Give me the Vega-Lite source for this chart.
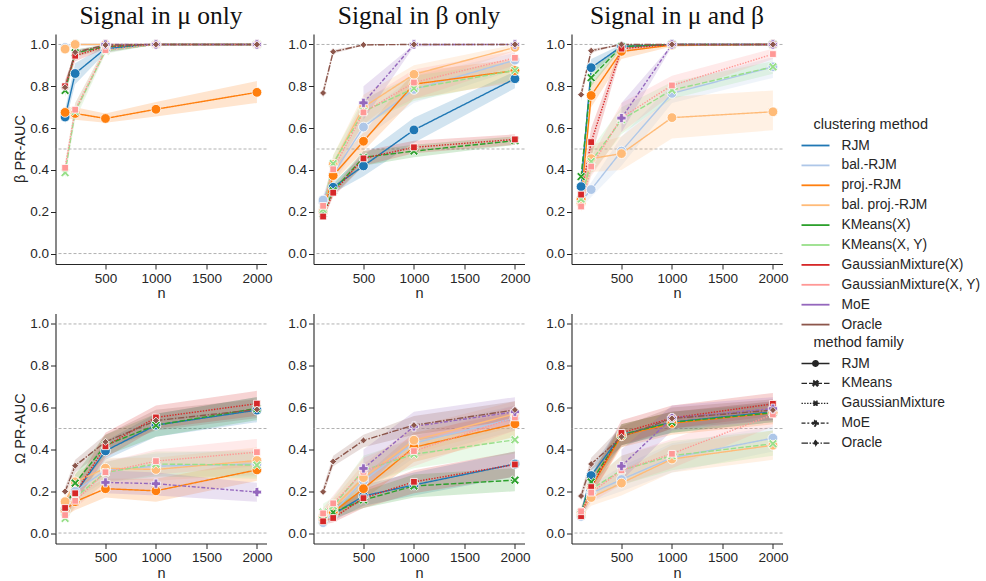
{
"$schema": "https://vega.github.io/schema/vega-lite/v6.json",
"padding": {"left": 12.5, "top": 3, "right": 5, "bottom": 5},
"config": {
  "font": "Liberation Sans",
  "view": {"stroke": null},
  "axis": {"domainColor": "#262626", "domainWidth": 1.1, "tickColor": "#262626", "tickSize": 5, "tickWidth": 1, "labelColor": "#262626", "labelFontSize": 13.5, "titleFontSize": 14.5, "titleFontWeight": "normal", "titleColor": "#262626", "grid": false, "labelPadding": 2, "titlePadding": 2}
},
"data": {"values": [
{"signal":"Signal in μ only","metric":"β PR-AUC","method":"RJM","n":100,"mean":0.653,"lo":0.62,"hi":0.69},
{"signal":"Signal in μ only","metric":"β PR-AUC","method":"RJM","n":200,"mean":0.861,"lo":0.81,"hi":0.91},
{"signal":"Signal in μ only","metric":"β PR-AUC","method":"RJM","n":500,"mean":0.98,"lo":0.96,"hi":0.995},
{"signal":"Signal in μ only","metric":"β PR-AUC","method":"RJM","n":1000,"mean":1,"lo":1,"hi":1},
{"signal":"Signal in μ only","metric":"β PR-AUC","method":"RJM","n":2000,"mean":1,"lo":1,"hi":1},
{"signal":"Signal in μ only","metric":"β PR-AUC","method":"bal.-RJM","n":100,"mean":0.985,"lo":0.97,"hi":1},
{"signal":"Signal in μ only","metric":"β PR-AUC","method":"bal.-RJM","n":200,"mean":1,"lo":1,"hi":1},
{"signal":"Signal in μ only","metric":"β PR-AUC","method":"bal.-RJM","n":500,"mean":1,"lo":1,"hi":1},
{"signal":"Signal in μ only","metric":"β PR-AUC","method":"bal.-RJM","n":1000,"mean":1,"lo":1,"hi":1},
{"signal":"Signal in μ only","metric":"β PR-AUC","method":"bal.-RJM","n":2000,"mean":1,"lo":1,"hi":1},
{"signal":"Signal in μ only","metric":"β PR-AUC","method":"proj.-RJM","n":100,"mean":0.675,"lo":0.65,"hi":0.70},
{"signal":"Signal in μ only","metric":"β PR-AUC","method":"proj.-RJM","n":200,"mean":0.67,"lo":0.64,"hi":0.70},
{"signal":"Signal in μ only","metric":"β PR-AUC","method":"proj.-RJM","n":500,"mean":0.646,"lo":0.625,"hi":0.67},
{"signal":"Signal in μ only","metric":"β PR-AUC","method":"proj.-RJM","n":1000,"mean":0.69,"lo":0.655,"hi":0.725},
{"signal":"Signal in μ only","metric":"β PR-AUC","method":"proj.-RJM","n":2000,"mean":0.771,"lo":0.72,"hi":0.825},
{"signal":"Signal in μ only","metric":"β PR-AUC","method":"bal. proj.-RJM","n":100,"mean":0.978,"lo":0.96,"hi":0.99},
{"signal":"Signal in μ only","metric":"β PR-AUC","method":"bal. proj.-RJM","n":200,"mean":1,"lo":1,"hi":1},
{"signal":"Signal in μ only","metric":"β PR-AUC","method":"bal. proj.-RJM","n":500,"mean":1,"lo":1,"hi":1},
{"signal":"Signal in μ only","metric":"β PR-AUC","method":"bal. proj.-RJM","n":1000,"mean":1,"lo":1,"hi":1},
{"signal":"Signal in μ only","metric":"β PR-AUC","method":"bal. proj.-RJM","n":2000,"mean":1,"lo":1,"hi":1},
{"signal":"Signal in μ only","metric":"β PR-AUC","method":"KMeans(X)","n":100,"mean":0.78,"lo":0.75,"hi":0.81},
{"signal":"Signal in μ only","metric":"β PR-AUC","method":"KMeans(X)","n":200,"mean":0.96,"lo":0.94,"hi":0.975},
{"signal":"Signal in μ only","metric":"β PR-AUC","method":"KMeans(X)","n":500,"mean":0.99,"lo":0.98,"hi":1},
{"signal":"Signal in μ only","metric":"β PR-AUC","method":"KMeans(X)","n":1000,"mean":1,"lo":1,"hi":1},
{"signal":"Signal in μ only","metric":"β PR-AUC","method":"KMeans(X)","n":2000,"mean":1,"lo":1,"hi":1},
{"signal":"Signal in μ only","metric":"β PR-AUC","method":"KMeans(X, Y)","n":100,"mean":0.387,"lo":0.36,"hi":0.42},
{"signal":"Signal in μ only","metric":"β PR-AUC","method":"KMeans(X, Y)","n":200,"mean":0.68,"lo":0.64,"hi":0.72},
{"signal":"Signal in μ only","metric":"β PR-AUC","method":"KMeans(X, Y)","n":500,"mean":0.97,"lo":0.955,"hi":0.99},
{"signal":"Signal in μ only","metric":"β PR-AUC","method":"KMeans(X, Y)","n":1000,"mean":1,"lo":1,"hi":1},
{"signal":"Signal in μ only","metric":"β PR-AUC","method":"KMeans(X, Y)","n":2000,"mean":1,"lo":1,"hi":1},
{"signal":"Signal in μ only","metric":"β PR-AUC","method":"GaussianMixture(X)","n":100,"mean":0.80,"lo":0.77,"hi":0.83},
{"signal":"Signal in μ only","metric":"β PR-AUC","method":"GaussianMixture(X)","n":200,"mean":0.946,"lo":0.92,"hi":0.96},
{"signal":"Signal in μ only","metric":"β PR-AUC","method":"GaussianMixture(X)","n":500,"mean":0.99,"lo":0.98,"hi":1},
{"signal":"Signal in μ only","metric":"β PR-AUC","method":"GaussianMixture(X)","n":1000,"mean":1,"lo":1,"hi":1},
{"signal":"Signal in μ only","metric":"β PR-AUC","method":"GaussianMixture(X)","n":2000,"mean":1,"lo":1,"hi":1},
{"signal":"Signal in μ only","metric":"β PR-AUC","method":"GaussianMixture(X, Y)","n":100,"mean":0.41,"lo":0.38,"hi":0.44},
{"signal":"Signal in μ only","metric":"β PR-AUC","method":"GaussianMixture(X, Y)","n":200,"mean":0.688,"lo":0.66,"hi":0.72},
{"signal":"Signal in μ only","metric":"β PR-AUC","method":"GaussianMixture(X, Y)","n":500,"mean":0.973,"lo":0.96,"hi":0.99},
{"signal":"Signal in μ only","metric":"β PR-AUC","method":"GaussianMixture(X, Y)","n":1000,"mean":1,"lo":1,"hi":1},
{"signal":"Signal in μ only","metric":"β PR-AUC","method":"GaussianMixture(X, Y)","n":2000,"mean":1,"lo":1,"hi":1},
{"signal":"Signal in μ only","metric":"β PR-AUC","method":"MoE","n":500,"mean":1,"lo":1,"hi":1},
{"signal":"Signal in μ only","metric":"β PR-AUC","method":"MoE","n":1000,"mean":1,"lo":1,"hi":1},
{"signal":"Signal in μ only","metric":"β PR-AUC","method":"MoE","n":2000,"mean":1,"lo":1,"hi":1},
{"signal":"Signal in μ only","metric":"β PR-AUC","method":"Oracle","n":100,"mean":0.795,"lo":0.77,"hi":0.82},
{"signal":"Signal in μ only","metric":"β PR-AUC","method":"Oracle","n":200,"mean":0.963,"lo":0.95,"hi":0.975},
{"signal":"Signal in μ only","metric":"β PR-AUC","method":"Oracle","n":500,"mean":0.997,"lo":0.99,"hi":1},
{"signal":"Signal in μ only","metric":"β PR-AUC","method":"Oracle","n":1000,"mean":1,"lo":1,"hi":1},
{"signal":"Signal in μ only","metric":"β PR-AUC","method":"Oracle","n":2000,"mean":1,"lo":1,"hi":1},

{"signal":"Signal in β only","metric":"β PR-AUC","method":"RJM","n":100,"mean":0.25,"lo":0.23,"hi":0.27},
{"signal":"Signal in β only","metric":"β PR-AUC","method":"RJM","n":200,"mean":0.317,"lo":0.29,"hi":0.34},
{"signal":"Signal in β only","metric":"β PR-AUC","method":"RJM","n":500,"mean":0.419,"lo":0.37,"hi":0.47},
{"signal":"Signal in β only","metric":"β PR-AUC","method":"RJM","n":1000,"mean":0.591,"lo":0.53,"hi":0.65},
{"signal":"Signal in β only","metric":"β PR-AUC","method":"RJM","n":2000,"mean":0.836,"lo":0.79,"hi":0.87},
{"signal":"Signal in β only","metric":"β PR-AUC","method":"bal.-RJM","n":100,"mean":0.256,"lo":0.23,"hi":0.28},
{"signal":"Signal in β only","metric":"β PR-AUC","method":"bal.-RJM","n":200,"mean":0.38,"lo":0.34,"hi":0.42},
{"signal":"Signal in β only","metric":"β PR-AUC","method":"bal.-RJM","n":500,"mean":0.605,"lo":0.55,"hi":0.66},
{"signal":"Signal in β only","metric":"β PR-AUC","method":"bal.-RJM","n":1000,"mean":0.785,"lo":0.72,"hi":0.85},
{"signal":"Signal in β only","metric":"β PR-AUC","method":"bal.-RJM","n":2000,"mean":0.925,"lo":0.88,"hi":0.96},
{"signal":"Signal in β only","metric":"β PR-AUC","method":"proj.-RJM","n":100,"mean":0.20,"lo":0.18,"hi":0.22},
{"signal":"Signal in β only","metric":"β PR-AUC","method":"proj.-RJM","n":200,"mean":0.373,"lo":0.34,"hi":0.41},
{"signal":"Signal in β only","metric":"β PR-AUC","method":"proj.-RJM","n":500,"mean":0.537,"lo":0.49,"hi":0.58},
{"signal":"Signal in β only","metric":"β PR-AUC","method":"proj.-RJM","n":1000,"mean":0.81,"lo":0.74,"hi":0.87},
{"signal":"Signal in β only","metric":"β PR-AUC","method":"proj.-RJM","n":2000,"mean":0.875,"lo":0.82,"hi":0.93},
{"signal":"Signal in β only","metric":"β PR-AUC","method":"bal. proj.-RJM","n":100,"mean":0.20,"lo":0.17,"hi":0.23},
{"signal":"Signal in β only","metric":"β PR-AUC","method":"bal. proj.-RJM","n":200,"mean":0.427,"lo":0.38,"hi":0.47},
{"signal":"Signal in β only","metric":"β PR-AUC","method":"bal. proj.-RJM","n":500,"mean":0.70,"lo":0.62,"hi":0.76},
{"signal":"Signal in β only","metric":"β PR-AUC","method":"bal. proj.-RJM","n":1000,"mean":0.857,"lo":0.80,"hi":0.90},
{"signal":"Signal in β only","metric":"β PR-AUC","method":"bal. proj.-RJM","n":2000,"mean":0.986,"lo":0.97,"hi":1},
{"signal":"Signal in β only","metric":"β PR-AUC","method":"KMeans(X)","n":100,"mean":0.19,"lo":0.17,"hi":0.21},
{"signal":"Signal in β only","metric":"β PR-AUC","method":"KMeans(X)","n":200,"mean":0.30,"lo":0.28,"hi":0.33},
{"signal":"Signal in β only","metric":"β PR-AUC","method":"KMeans(X)","n":500,"mean":0.46,"lo":0.42,"hi":0.49},
{"signal":"Signal in β only","metric":"β PR-AUC","method":"KMeans(X)","n":1000,"mean":0.49,"lo":0.46,"hi":0.52},
{"signal":"Signal in β only","metric":"β PR-AUC","method":"KMeans(X)","n":2000,"mean":0.54,"lo":0.52,"hi":0.56},
{"signal":"Signal in β only","metric":"β PR-AUC","method":"KMeans(X, Y)","n":100,"mean":0.21,"lo":0.18,"hi":0.24},
{"signal":"Signal in β only","metric":"β PR-AUC","method":"KMeans(X, Y)","n":200,"mean":0.43,"lo":0.39,"hi":0.47},
{"signal":"Signal in β only","metric":"β PR-AUC","method":"KMeans(X, Y)","n":500,"mean":0.68,"lo":0.62,"hi":0.74},
{"signal":"Signal in β only","metric":"β PR-AUC","method":"KMeans(X, Y)","n":1000,"mean":0.79,"lo":0.73,"hi":0.85},
{"signal":"Signal in β only","metric":"β PR-AUC","method":"KMeans(X, Y)","n":2000,"mean":0.876,"lo":0.83,"hi":0.92},
{"signal":"Signal in β only","metric":"β PR-AUC","method":"GaussianMixture(X)","n":100,"mean":0.177,"lo":0.16,"hi":0.20},
{"signal":"Signal in β only","metric":"β PR-AUC","method":"GaussianMixture(X)","n":200,"mean":0.291,"lo":0.27,"hi":0.31},
{"signal":"Signal in β only","metric":"β PR-AUC","method":"GaussianMixture(X)","n":500,"mean":0.455,"lo":0.42,"hi":0.49},
{"signal":"Signal in β only","metric":"β PR-AUC","method":"GaussianMixture(X)","n":1000,"mean":0.508,"lo":0.48,"hi":0.54},
{"signal":"Signal in β only","metric":"β PR-AUC","method":"GaussianMixture(X)","n":2000,"mean":0.546,"lo":0.52,"hi":0.57},
{"signal":"Signal in β only","metric":"β PR-AUC","method":"GaussianMixture(X, Y)","n":100,"mean":0.228,"lo":0.20,"hi":0.26},
{"signal":"Signal in β only","metric":"β PR-AUC","method":"GaussianMixture(X, Y)","n":200,"mean":0.403,"lo":0.36,"hi":0.44},
{"signal":"Signal in β only","metric":"β PR-AUC","method":"GaussianMixture(X, Y)","n":500,"mean":0.675,"lo":0.62,"hi":0.73},
{"signal":"Signal in β only","metric":"β PR-AUC","method":"GaussianMixture(X, Y)","n":1000,"mean":0.818,"lo":0.74,"hi":0.88},
{"signal":"Signal in β only","metric":"β PR-AUC","method":"GaussianMixture(X, Y)","n":2000,"mean":0.936,"lo":0.90,"hi":0.97},
{"signal":"Signal in β only","metric":"β PR-AUC","method":"MoE","n":500,"mean":0.721,"lo":0.64,"hi":0.80},
{"signal":"Signal in β only","metric":"β PR-AUC","method":"MoE","n":1000,"mean":1,"lo":0.99,"hi":1},
{"signal":"Signal in β only","metric":"β PR-AUC","method":"MoE","n":2000,"mean":1,"lo":1,"hi":1},
{"signal":"Signal in β only","metric":"β PR-AUC","method":"Oracle","n":100,"mean":0.768,"lo":0.74,"hi":0.79},
{"signal":"Signal in β only","metric":"β PR-AUC","method":"Oracle","n":200,"mean":0.965,"lo":0.955,"hi":0.975},
{"signal":"Signal in β only","metric":"β PR-AUC","method":"Oracle","n":500,"mean":0.998,"lo":0.995,"hi":1},
{"signal":"Signal in β only","metric":"β PR-AUC","method":"Oracle","n":1000,"mean":1,"lo":1,"hi":1},
{"signal":"Signal in β only","metric":"β PR-AUC","method":"Oracle","n":2000,"mean":1,"lo":1,"hi":1},

{"signal":"Signal in μ and β","metric":"β PR-AUC","method":"RJM","n":100,"mean":0.32,"lo":0.28,"hi":0.36},
{"signal":"Signal in μ and β","metric":"β PR-AUC","method":"RJM","n":200,"mean":0.889,"lo":0.86,"hi":0.93},
{"signal":"Signal in μ and β","metric":"β PR-AUC","method":"RJM","n":500,"mean":0.99,"lo":0.98,"hi":1},
{"signal":"Signal in μ and β","metric":"β PR-AUC","method":"RJM","n":1000,"mean":1,"lo":1,"hi":1},
{"signal":"Signal in μ and β","metric":"β PR-AUC","method":"RJM","n":2000,"mean":1,"lo":1,"hi":1},
{"signal":"Signal in μ and β","metric":"β PR-AUC","method":"bal.-RJM","n":100,"mean":0.25,"lo":0.22,"hi":0.28},
{"signal":"Signal in μ and β","metric":"β PR-AUC","method":"bal.-RJM","n":200,"mean":0.306,"lo":0.27,"hi":0.34},
{"signal":"Signal in μ and β","metric":"β PR-AUC","method":"bal.-RJM","n":500,"mean":0.49,"lo":0.42,"hi":0.56},
{"signal":"Signal in μ and β","metric":"β PR-AUC","method":"bal.-RJM","n":1000,"mean":0.766,"lo":0.72,"hi":0.81},
{"signal":"Signal in μ and β","metric":"β PR-AUC","method":"bal.-RJM","n":2000,"mean":0.893,"lo":0.84,"hi":0.94},
{"signal":"Signal in μ and β","metric":"β PR-AUC","method":"proj.-RJM","n":100,"mean":0.26,"lo":0.23,"hi":0.29},
{"signal":"Signal in μ and β","metric":"β PR-AUC","method":"proj.-RJM","n":200,"mean":0.756,"lo":0.70,"hi":0.81},
{"signal":"Signal in μ and β","metric":"β PR-AUC","method":"proj.-RJM","n":500,"mean":0.967,"lo":0.93,"hi":0.99},
{"signal":"Signal in μ and β","metric":"β PR-AUC","method":"proj.-RJM","n":1000,"mean":0.997,"lo":0.99,"hi":1},
{"signal":"Signal in μ and β","metric":"β PR-AUC","method":"proj.-RJM","n":2000,"mean":1,"lo":1,"hi":1},
{"signal":"Signal in μ and β","metric":"β PR-AUC","method":"bal. proj.-RJM","n":100,"mean":0.24,"lo":0.20,"hi":0.28},
{"signal":"Signal in μ and β","metric":"β PR-AUC","method":"bal. proj.-RJM","n":200,"mean":0.454,"lo":0.39,"hi":0.52},
{"signal":"Signal in μ and β","metric":"β PR-AUC","method":"bal. proj.-RJM","n":500,"mean":0.478,"lo":0.40,"hi":0.56},
{"signal":"Signal in μ and β","metric":"β PR-AUC","method":"bal. proj.-RJM","n":1000,"mean":0.65,"lo":0.55,"hi":0.75},
{"signal":"Signal in μ and β","metric":"β PR-AUC","method":"bal. proj.-RJM","n":2000,"mean":0.678,"lo":0.59,"hi":0.78},
{"signal":"Signal in μ and β","metric":"β PR-AUC","method":"KMeans(X)","n":100,"mean":0.368,"lo":0.33,"hi":0.40},
{"signal":"Signal in μ and β","metric":"β PR-AUC","method":"KMeans(X)","n":200,"mean":0.841,"lo":0.80,"hi":0.88},
{"signal":"Signal in μ and β","metric":"β PR-AUC","method":"KMeans(X)","n":500,"mean":0.99,"lo":0.98,"hi":1},
{"signal":"Signal in μ and β","metric":"β PR-AUC","method":"KMeans(X)","n":1000,"mean":1,"lo":1,"hi":1},
{"signal":"Signal in μ and β","metric":"β PR-AUC","method":"KMeans(X)","n":2000,"mean":1,"lo":1,"hi":1},
{"signal":"Signal in μ and β","metric":"β PR-AUC","method":"KMeans(X, Y)","n":100,"mean":0.26,"lo":0.22,"hi":0.30},
{"signal":"Signal in μ and β","metric":"β PR-AUC","method":"KMeans(X, Y)","n":200,"mean":0.44,"lo":0.38,"hi":0.50},
{"signal":"Signal in μ and β","metric":"β PR-AUC","method":"KMeans(X, Y)","n":500,"mean":0.64,"lo":0.57,"hi":0.70},
{"signal":"Signal in μ and β","metric":"β PR-AUC","method":"KMeans(X, Y)","n":1000,"mean":0.782,"lo":0.74,"hi":0.82},
{"signal":"Signal in μ and β","metric":"β PR-AUC","method":"KMeans(X, Y)","n":2000,"mean":0.893,"lo":0.86,"hi":0.92},
{"signal":"Signal in μ and β","metric":"β PR-AUC","method":"GaussianMixture(X)","n":100,"mean":0.282,"lo":0.25,"hi":0.31},
{"signal":"Signal in μ and β","metric":"β PR-AUC","method":"GaussianMixture(X)","n":200,"mean":0.533,"lo":0.46,"hi":0.60},
{"signal":"Signal in μ and β","metric":"β PR-AUC","method":"GaussianMixture(X)","n":500,"mean":0.98,"lo":0.96,"hi":1},
{"signal":"Signal in μ and β","metric":"β PR-AUC","method":"GaussianMixture(X)","n":1000,"mean":1,"lo":1,"hi":1},
{"signal":"Signal in μ and β","metric":"β PR-AUC","method":"GaussianMixture(X)","n":2000,"mean":1,"lo":1,"hi":1},
{"signal":"Signal in μ and β","metric":"β PR-AUC","method":"GaussianMixture(X, Y)","n":100,"mean":0.225,"lo":0.20,"hi":0.25},
{"signal":"Signal in μ and β","metric":"β PR-AUC","method":"GaussianMixture(X, Y)","n":200,"mean":0.416,"lo":0.37,"hi":0.46},
{"signal":"Signal in μ and β","metric":"β PR-AUC","method":"GaussianMixture(X, Y)","n":500,"mean":0.65,"lo":0.58,"hi":0.72},
{"signal":"Signal in μ and β","metric":"β PR-AUC","method":"GaussianMixture(X, Y)","n":1000,"mean":0.804,"lo":0.76,"hi":0.85},
{"signal":"Signal in μ and β","metric":"β PR-AUC","method":"GaussianMixture(X, Y)","n":2000,"mean":0.954,"lo":0.93,"hi":0.98},
{"signal":"Signal in μ and β","metric":"β PR-AUC","method":"MoE","n":500,"mean":0.648,"lo":0.58,"hi":0.72},
{"signal":"Signal in μ and β","metric":"β PR-AUC","method":"MoE","n":1000,"mean":1,"lo":0.99,"hi":1},
{"signal":"Signal in μ and β","metric":"β PR-AUC","method":"MoE","n":2000,"mean":1,"lo":1,"hi":1},
{"signal":"Signal in μ and β","metric":"β PR-AUC","method":"Oracle","n":100,"mean":0.76,"lo":0.73,"hi":0.79},
{"signal":"Signal in μ and β","metric":"β PR-AUC","method":"Oracle","n":200,"mean":0.97,"lo":0.96,"hi":0.98},
{"signal":"Signal in μ and β","metric":"β PR-AUC","method":"Oracle","n":500,"mean":1,"lo":1,"hi":1},
{"signal":"Signal in μ and β","metric":"β PR-AUC","method":"Oracle","n":1000,"mean":1,"lo":1,"hi":1},
{"signal":"Signal in μ and β","metric":"β PR-AUC","method":"Oracle","n":2000,"mean":1,"lo":1,"hi":1},

{"signal":"Signal in μ only","metric":"Ω PR-AUC","method":"RJM","n":100,"mean":0.11,"lo":0.09,"hi":0.13},
{"signal":"Signal in μ only","metric":"Ω PR-AUC","method":"RJM","n":200,"mean":0.19,"lo":0.15,"hi":0.23},
{"signal":"Signal in μ only","metric":"Ω PR-AUC","method":"RJM","n":500,"mean":0.393,"lo":0.35,"hi":0.44},
{"signal":"Signal in μ only","metric":"Ω PR-AUC","method":"RJM","n":1000,"mean":0.516,"lo":0.46,"hi":0.57},
{"signal":"Signal in μ only","metric":"Ω PR-AUC","method":"RJM","n":2000,"mean":0.588,"lo":0.53,"hi":0.65},
{"signal":"Signal in μ only","metric":"Ω PR-AUC","method":"bal.-RJM","n":100,"mean":0.10,"lo":0.08,"hi":0.12},
{"signal":"Signal in μ only","metric":"Ω PR-AUC","method":"bal.-RJM","n":200,"mean":0.20,"lo":0.16,"hi":0.24},
{"signal":"Signal in μ only","metric":"Ω PR-AUC","method":"bal.-RJM","n":500,"mean":0.30,"lo":0.25,"hi":0.35},
{"signal":"Signal in μ only","metric":"Ω PR-AUC","method":"bal.-RJM","n":1000,"mean":0.32,"lo":0.27,"hi":0.38},
{"signal":"Signal in μ only","metric":"Ω PR-AUC","method":"bal.-RJM","n":2000,"mean":0.33,"lo":0.27,"hi":0.40},
{"signal":"Signal in μ only","metric":"Ω PR-AUC","method":"proj.-RJM","n":100,"mean":0.107,"lo":0.08,"hi":0.13},
{"signal":"Signal in μ only","metric":"Ω PR-AUC","method":"proj.-RJM","n":200,"mean":0.15,"lo":0.11,"hi":0.19},
{"signal":"Signal in μ only","metric":"Ω PR-AUC","method":"proj.-RJM","n":500,"mean":0.212,"lo":0.17,"hi":0.26},
{"signal":"Signal in μ only","metric":"Ω PR-AUC","method":"proj.-RJM","n":1000,"mean":0.202,"lo":0.15,"hi":0.26},
{"signal":"Signal in μ only","metric":"Ω PR-AUC","method":"proj.-RJM","n":2000,"mean":0.302,"lo":0.25,"hi":0.35},
{"signal":"Signal in μ only","metric":"Ω PR-AUC","method":"bal. proj.-RJM","n":100,"mean":0.15,"lo":0.12,"hi":0.18},
{"signal":"Signal in μ only","metric":"Ω PR-AUC","method":"bal. proj.-RJM","n":200,"mean":0.245,"lo":0.20,"hi":0.29},
{"signal":"Signal in μ only","metric":"Ω PR-AUC","method":"bal. proj.-RJM","n":500,"mean":0.31,"lo":0.26,"hi":0.36},
{"signal":"Signal in μ only","metric":"Ω PR-AUC","method":"bal. proj.-RJM","n":1000,"mean":0.304,"lo":0.25,"hi":0.36},
{"signal":"Signal in μ only","metric":"Ω PR-AUC","method":"bal. proj.-RJM","n":2000,"mean":0.347,"lo":0.28,"hi":0.41},
{"signal":"Signal in μ only","metric":"Ω PR-AUC","method":"KMeans(X)","n":100,"mean":0.10,"lo":0.08,"hi":0.12},
{"signal":"Signal in μ only","metric":"Ω PR-AUC","method":"KMeans(X)","n":200,"mean":0.239,"lo":0.20,"hi":0.28},
{"signal":"Signal in μ only","metric":"Ω PR-AUC","method":"KMeans(X)","n":500,"mean":0.42,"lo":0.37,"hi":0.47},
{"signal":"Signal in μ only","metric":"Ω PR-AUC","method":"KMeans(X)","n":1000,"mean":0.516,"lo":0.46,"hi":0.57},
{"signal":"Signal in μ only","metric":"Ω PR-AUC","method":"KMeans(X)","n":2000,"mean":0.596,"lo":0.54,"hi":0.65},
{"signal":"Signal in μ only","metric":"Ω PR-AUC","method":"KMeans(X, Y)","n":100,"mean":0.07,"lo":0.05,"hi":0.09},
{"signal":"Signal in μ only","metric":"Ω PR-AUC","method":"KMeans(X, Y)","n":200,"mean":0.17,"lo":0.13,"hi":0.21},
{"signal":"Signal in μ only","metric":"Ω PR-AUC","method":"KMeans(X, Y)","n":500,"mean":0.29,"lo":0.24,"hi":0.34},
{"signal":"Signal in μ only","metric":"Ω PR-AUC","method":"KMeans(X, Y)","n":1000,"mean":0.33,"lo":0.27,"hi":0.39},
{"signal":"Signal in μ only","metric":"Ω PR-AUC","method":"KMeans(X, Y)","n":2000,"mean":0.325,"lo":0.26,"hi":0.39},
{"signal":"Signal in μ only","metric":"Ω PR-AUC","method":"GaussianMixture(X)","n":100,"mean":0.12,"lo":0.10,"hi":0.15},
{"signal":"Signal in μ only","metric":"Ω PR-AUC","method":"GaussianMixture(X)","n":200,"mean":0.19,"lo":0.15,"hi":0.23},
{"signal":"Signal in μ only","metric":"Ω PR-AUC","method":"GaussianMixture(X)","n":500,"mean":0.415,"lo":0.36,"hi":0.48},
{"signal":"Signal in μ only","metric":"Ω PR-AUC","method":"GaussianMixture(X)","n":1000,"mean":0.553,"lo":0.50,"hi":0.61},
{"signal":"Signal in μ only","metric":"Ω PR-AUC","method":"GaussianMixture(X)","n":2000,"mean":0.619,"lo":0.56,"hi":0.68},
{"signal":"Signal in μ only","metric":"Ω PR-AUC","method":"GaussianMixture(X, Y)","n":100,"mean":0.086,"lo":0.07,"hi":0.11},
{"signal":"Signal in μ only","metric":"Ω PR-AUC","method":"GaussianMixture(X, Y)","n":200,"mean":0.154,"lo":0.12,"hi":0.19},
{"signal":"Signal in μ only","metric":"Ω PR-AUC","method":"GaussianMixture(X, Y)","n":500,"mean":0.291,"lo":0.24,"hi":0.34},
{"signal":"Signal in μ only","metric":"Ω PR-AUC","method":"GaussianMixture(X, Y)","n":1000,"mean":0.344,"lo":0.28,"hi":0.40},
{"signal":"Signal in μ only","metric":"Ω PR-AUC","method":"GaussianMixture(X, Y)","n":2000,"mean":0.387,"lo":0.32,"hi":0.45},
{"signal":"Signal in μ only","metric":"Ω PR-AUC","method":"MoE","n":500,"mean":0.242,"lo":0.19,"hi":0.30},
{"signal":"Signal in μ only","metric":"Ω PR-AUC","method":"MoE","n":1000,"mean":0.236,"lo":0.18,"hi":0.29},
{"signal":"Signal in μ only","metric":"Ω PR-AUC","method":"MoE","n":2000,"mean":0.196,"lo":0.15,"hi":0.24},
{"signal":"Signal in μ only","metric":"Ω PR-AUC","method":"Oracle","n":100,"mean":0.199,"lo":0.18,"hi":0.22},
{"signal":"Signal in μ only","metric":"Ω PR-AUC","method":"Oracle","n":200,"mean":0.322,"lo":0.29,"hi":0.35},
{"signal":"Signal in μ only","metric":"Ω PR-AUC","method":"Oracle","n":500,"mean":0.436,"lo":0.40,"hi":0.47},
{"signal":"Signal in μ only","metric":"Ω PR-AUC","method":"Oracle","n":1000,"mean":0.538,"lo":0.49,"hi":0.59},
{"signal":"Signal in μ only","metric":"Ω PR-AUC","method":"Oracle","n":2000,"mean":0.591,"lo":0.55,"hi":0.64},

{"signal":"Signal in β only","metric":"Ω PR-AUC","method":"RJM","n":100,"mean":0.06,"lo":0.04,"hi":0.08},
{"signal":"Signal in β only","metric":"Ω PR-AUC","method":"RJM","n":200,"mean":0.09,"lo":0.06,"hi":0.12},
{"signal":"Signal in β only","metric":"Ω PR-AUC","method":"RJM","n":500,"mean":0.177,"lo":0.13,"hi":0.23},
{"signal":"Signal in β only","metric":"Ω PR-AUC","method":"RJM","n":1000,"mean":0.23,"lo":0.18,"hi":0.29},
{"signal":"Signal in β only","metric":"Ω PR-AUC","method":"RJM","n":2000,"mean":0.33,"lo":0.27,"hi":0.39},
{"signal":"Signal in β only","metric":"Ω PR-AUC","method":"bal.-RJM","n":100,"mean":0.05,"lo":0.03,"hi":0.07},
{"signal":"Signal in β only","metric":"Ω PR-AUC","method":"bal.-RJM","n":200,"mean":0.10,"lo":0.07,"hi":0.13},
{"signal":"Signal in β only","metric":"Ω PR-AUC","method":"bal.-RJM","n":500,"mean":0.25,"lo":0.19,"hi":0.31},
{"signal":"Signal in β only","metric":"Ω PR-AUC","method":"bal.-RJM","n":1000,"mean":0.43,"lo":0.36,"hi":0.50},
{"signal":"Signal in β only","metric":"Ω PR-AUC","method":"bal.-RJM","n":2000,"mean":0.55,"lo":0.49,"hi":0.61},
{"signal":"Signal in β only","metric":"Ω PR-AUC","method":"proj.-RJM","n":100,"mean":0.07,"lo":0.05,"hi":0.09},
{"signal":"Signal in β only","metric":"Ω PR-AUC","method":"proj.-RJM","n":200,"mean":0.10,"lo":0.07,"hi":0.13},
{"signal":"Signal in β only","metric":"Ω PR-AUC","method":"proj.-RJM","n":500,"mean":0.212,"lo":0.16,"hi":0.27},
{"signal":"Signal in β only","metric":"Ω PR-AUC","method":"proj.-RJM","n":1000,"mean":0.41,"lo":0.34,"hi":0.48},
{"signal":"Signal in β only","metric":"Ω PR-AUC","method":"proj.-RJM","n":2000,"mean":0.522,"lo":0.46,"hi":0.58},
{"signal":"Signal in β only","metric":"Ω PR-AUC","method":"bal. proj.-RJM","n":100,"mean":0.08,"lo":0.06,"hi":0.11},
{"signal":"Signal in β only","metric":"Ω PR-AUC","method":"bal. proj.-RJM","n":200,"mean":0.12,"lo":0.09,"hi":0.16},
{"signal":"Signal in β only","metric":"Ω PR-AUC","method":"bal. proj.-RJM","n":500,"mean":0.265,"lo":0.20,"hi":0.33},
{"signal":"Signal in β only","metric":"Ω PR-AUC","method":"bal. proj.-RJM","n":1000,"mean":0.444,"lo":0.38,"hi":0.51},
{"signal":"Signal in β only","metric":"Ω PR-AUC","method":"bal. proj.-RJM","n":2000,"mean":0.57,"lo":0.51,"hi":0.63},
{"signal":"Signal in β only","metric":"Ω PR-AUC","method":"KMeans(X)","n":100,"mean":0.06,"lo":0.04,"hi":0.08},
{"signal":"Signal in β only","metric":"Ω PR-AUC","method":"KMeans(X)","n":200,"mean":0.099,"lo":0.07,"hi":0.13},
{"signal":"Signal in β only","metric":"Ω PR-AUC","method":"KMeans(X)","n":500,"mean":0.158,"lo":0.12,"hi":0.20},
{"signal":"Signal in β only","metric":"Ω PR-AUC","method":"KMeans(X)","n":1000,"mean":0.225,"lo":0.17,"hi":0.28},
{"signal":"Signal in β only","metric":"Ω PR-AUC","method":"KMeans(X)","n":2000,"mean":0.253,"lo":0.20,"hi":0.31},
{"signal":"Signal in β only","metric":"Ω PR-AUC","method":"KMeans(X, Y)","n":100,"mean":0.10,"lo":0.07,"hi":0.14},
{"signal":"Signal in β only","metric":"Ω PR-AUC","method":"KMeans(X, Y)","n":200,"mean":0.13,"lo":0.09,"hi":0.17},
{"signal":"Signal in β only","metric":"Ω PR-AUC","method":"KMeans(X, Y)","n":500,"mean":0.30,"lo":0.23,"hi":0.37},
{"signal":"Signal in β only","metric":"Ω PR-AUC","method":"KMeans(X, Y)","n":1000,"mean":0.377,"lo":0.31,"hi":0.45},
{"signal":"Signal in β only","metric":"Ω PR-AUC","method":"KMeans(X, Y)","n":2000,"mean":0.446,"lo":0.38,"hi":0.51},
{"signal":"Signal in β only","metric":"Ω PR-AUC","method":"GaussianMixture(X)","n":100,"mean":0.056,"lo":0.04,"hi":0.08},
{"signal":"Signal in β only","metric":"Ω PR-AUC","method":"GaussianMixture(X)","n":200,"mean":0.072,"lo":0.05,"hi":0.10},
{"signal":"Signal in β only","metric":"Ω PR-AUC","method":"GaussianMixture(X)","n":500,"mean":0.167,"lo":0.12,"hi":0.21},
{"signal":"Signal in β only","metric":"Ω PR-AUC","method":"GaussianMixture(X)","n":1000,"mean":0.245,"lo":0.19,"hi":0.30},
{"signal":"Signal in β only","metric":"Ω PR-AUC","method":"GaussianMixture(X)","n":2000,"mean":0.328,"lo":0.27,"hi":0.39},
{"signal":"Signal in β only","metric":"Ω PR-AUC","method":"GaussianMixture(X, Y)","n":100,"mean":0.094,"lo":0.07,"hi":0.12},
{"signal":"Signal in β only","metric":"Ω PR-AUC","method":"GaussianMixture(X, Y)","n":200,"mean":0.142,"lo":0.11,"hi":0.18},
{"signal":"Signal in β only","metric":"Ω PR-AUC","method":"GaussianMixture(X, Y)","n":500,"mean":0.293,"lo":0.23,"hi":0.36},
{"signal":"Signal in β only","metric":"Ω PR-AUC","method":"GaussianMixture(X, Y)","n":1000,"mean":0.392,"lo":0.32,"hi":0.46},
{"signal":"Signal in β only","metric":"Ω PR-AUC","method":"GaussianMixture(X, Y)","n":2000,"mean":0.553,"lo":0.49,"hi":0.61},
{"signal":"Signal in β only","metric":"Ω PR-AUC","method":"MoE","n":500,"mean":0.309,"lo":0.21,"hi":0.40},
{"signal":"Signal in β only","metric":"Ω PR-AUC","method":"MoE","n":1000,"mean":0.51,"lo":0.44,"hi":0.58},
{"signal":"Signal in β only","metric":"Ω PR-AUC","method":"MoE","n":2000,"mean":0.58,"lo":0.52,"hi":0.65},
{"signal":"Signal in β only","metric":"Ω PR-AUC","method":"Oracle","n":100,"mean":0.197,"lo":0.18,"hi":0.22},
{"signal":"Signal in β only","metric":"Ω PR-AUC","method":"Oracle","n":200,"mean":0.342,"lo":0.32,"hi":0.37},
{"signal":"Signal in β only","metric":"Ω PR-AUC","method":"Oracle","n":500,"mean":0.443,"lo":0.41,"hi":0.47},
{"signal":"Signal in β only","metric":"Ω PR-AUC","method":"Oracle","n":1000,"mean":0.516,"lo":0.47,"hi":0.56},
{"signal":"Signal in β only","metric":"Ω PR-AUC","method":"Oracle","n":2000,"mean":0.589,"lo":0.54,"hi":0.63},

{"signal":"Signal in μ and β","metric":"Ω PR-AUC","method":"RJM","n":100,"mean":0.09,"lo":0.07,"hi":0.11},
{"signal":"Signal in μ and β","metric":"Ω PR-AUC","method":"RJM","n":200,"mean":0.275,"lo":0.24,"hi":0.31},
{"signal":"Signal in μ and β","metric":"Ω PR-AUC","method":"RJM","n":500,"mean":0.47,"lo":0.42,"hi":0.52},
{"signal":"Signal in μ and β","metric":"Ω PR-AUC","method":"RJM","n":1000,"mean":0.53,"lo":0.48,"hi":0.58},
{"signal":"Signal in μ and β","metric":"Ω PR-AUC","method":"RJM","n":2000,"mean":0.58,"lo":0.53,"hi":0.63},
{"signal":"Signal in μ and β","metric":"Ω PR-AUC","method":"bal.-RJM","n":100,"mean":0.08,"lo":0.06,"hi":0.10},
{"signal":"Signal in μ and β","metric":"Ω PR-AUC","method":"bal.-RJM","n":200,"mean":0.19,"lo":0.15,"hi":0.23},
{"signal":"Signal in μ and β","metric":"Ω PR-AUC","method":"bal.-RJM","n":500,"mean":0.256,"lo":0.20,"hi":0.32},
{"signal":"Signal in μ and β","metric":"Ω PR-AUC","method":"bal.-RJM","n":1000,"mean":0.36,"lo":0.29,"hi":0.43},
{"signal":"Signal in μ and β","metric":"Ω PR-AUC","method":"bal.-RJM","n":2000,"mean":0.454,"lo":0.39,"hi":0.51},
{"signal":"Signal in μ and β","metric":"Ω PR-AUC","method":"proj.-RJM","n":100,"mean":0.09,"lo":0.07,"hi":0.11},
{"signal":"Signal in μ and β","metric":"Ω PR-AUC","method":"proj.-RJM","n":200,"mean":0.22,"lo":0.18,"hi":0.26},
{"signal":"Signal in μ and β","metric":"Ω PR-AUC","method":"proj.-RJM","n":500,"mean":0.465,"lo":0.41,"hi":0.52},
{"signal":"Signal in μ and β","metric":"Ω PR-AUC","method":"proj.-RJM","n":1000,"mean":0.525,"lo":0.47,"hi":0.58},
{"signal":"Signal in μ and β","metric":"Ω PR-AUC","method":"proj.-RJM","n":2000,"mean":0.575,"lo":0.52,"hi":0.63},
{"signal":"Signal in μ and β","metric":"Ω PR-AUC","method":"bal. proj.-RJM","n":100,"mean":0.10,"lo":0.08,"hi":0.12},
{"signal":"Signal in μ and β","metric":"Ω PR-AUC","method":"bal. proj.-RJM","n":200,"mean":0.17,"lo":0.13,"hi":0.21},
{"signal":"Signal in μ and β","metric":"Ω PR-AUC","method":"bal. proj.-RJM","n":500,"mean":0.239,"lo":0.18,"hi":0.30},
{"signal":"Signal in μ and β","metric":"Ω PR-AUC","method":"bal. proj.-RJM","n":1000,"mean":0.354,"lo":0.29,"hi":0.42},
{"signal":"Signal in μ and β","metric":"Ω PR-AUC","method":"bal. proj.-RJM","n":2000,"mean":0.42,"lo":0.35,"hi":0.49},
{"signal":"Signal in μ and β","metric":"Ω PR-AUC","method":"KMeans(X)","n":100,"mean":0.09,"lo":0.07,"hi":0.11},
{"signal":"Signal in μ and β","metric":"Ω PR-AUC","method":"KMeans(X)","n":200,"mean":0.244,"lo":0.21,"hi":0.28},
{"signal":"Signal in μ and β","metric":"Ω PR-AUC","method":"KMeans(X)","n":500,"mean":0.47,"lo":0.42,"hi":0.52},
{"signal":"Signal in μ and β","metric":"Ω PR-AUC","method":"KMeans(X)","n":1000,"mean":0.53,"lo":0.48,"hi":0.58},
{"signal":"Signal in μ and β","metric":"Ω PR-AUC","method":"KMeans(X)","n":2000,"mean":0.575,"lo":0.53,"hi":0.62},
{"signal":"Signal in μ and β","metric":"Ω PR-AUC","method":"KMeans(X, Y)","n":100,"mean":0.10,"lo":0.08,"hi":0.12},
{"signal":"Signal in μ and β","metric":"Ω PR-AUC","method":"KMeans(X, Y)","n":200,"mean":0.21,"lo":0.17,"hi":0.25},
{"signal":"Signal in μ and β","metric":"Ω PR-AUC","method":"KMeans(X, Y)","n":500,"mean":0.30,"lo":0.23,"hi":0.37},
{"signal":"Signal in μ and β","metric":"Ω PR-AUC","method":"KMeans(X, Y)","n":1000,"mean":0.37,"lo":0.30,"hi":0.44},
{"signal":"Signal in μ and β","metric":"Ω PR-AUC","method":"KMeans(X, Y)","n":2000,"mean":0.427,"lo":0.37,"hi":0.49},
{"signal":"Signal in μ and β","metric":"Ω PR-AUC","method":"GaussianMixture(X)","n":100,"mean":0.081,"lo":0.06,"hi":0.10},
{"signal":"Signal in μ and β","metric":"Ω PR-AUC","method":"GaussianMixture(X)","n":200,"mean":0.22,"lo":0.18,"hi":0.27},
{"signal":"Signal in μ and β","metric":"Ω PR-AUC","method":"GaussianMixture(X)","n":500,"mean":0.479,"lo":0.42,"hi":0.54},
{"signal":"Signal in μ and β","metric":"Ω PR-AUC","method":"GaussianMixture(X)","n":1000,"mean":0.55,"lo":0.50,"hi":0.61},
{"signal":"Signal in μ and β","metric":"Ω PR-AUC","method":"GaussianMixture(X)","n":2000,"mean":0.618,"lo":0.56,"hi":0.67},
{"signal":"Signal in μ and β","metric":"Ω PR-AUC","method":"GaussianMixture(X, Y)","n":100,"mean":0.104,"lo":0.08,"hi":0.13},
{"signal":"Signal in μ and β","metric":"Ω PR-AUC","method":"GaussianMixture(X, Y)","n":200,"mean":0.193,"lo":0.15,"hi":0.24},
{"signal":"Signal in μ and β","metric":"Ω PR-AUC","method":"GaussianMixture(X, Y)","n":500,"mean":0.30,"lo":0.23,"hi":0.37},
{"signal":"Signal in μ and β","metric":"Ω PR-AUC","method":"GaussianMixture(X, Y)","n":1000,"mean":0.379,"lo":0.31,"hi":0.45},
{"signal":"Signal in μ and β","metric":"Ω PR-AUC","method":"GaussianMixture(X, Y)","n":2000,"mean":0.567,"lo":0.51,"hi":0.62},
{"signal":"Signal in μ and β","metric":"Ω PR-AUC","method":"MoE","n":500,"mean":0.32,"lo":0.25,"hi":0.40},
{"signal":"Signal in μ and β","metric":"Ω PR-AUC","method":"MoE","n":1000,"mean":0.55,"lo":0.49,"hi":0.61},
{"signal":"Signal in μ and β","metric":"Ω PR-AUC","method":"MoE","n":2000,"mean":0.595,"lo":0.54,"hi":0.65},
{"signal":"Signal in μ and β","metric":"Ω PR-AUC","method":"Oracle","n":100,"mean":0.177,"lo":0.15,"hi":0.20},
{"signal":"Signal in μ and β","metric":"Ω PR-AUC","method":"Oracle","n":200,"mean":0.33,"lo":0.30,"hi":0.36},
{"signal":"Signal in μ and β","metric":"Ω PR-AUC","method":"Oracle","n":500,"mean":0.46,"lo":0.41,"hi":0.51},
{"signal":"Signal in μ and β","metric":"Ω PR-AUC","method":"Oracle","n":1000,"mean":0.548,"lo":0.50,"hi":0.60},
{"signal":"Signal in μ and β","metric":"Ω PR-AUC","method":"Oracle","n":2000,"mean":0.588,"lo":0.54,"hi":0.64}
]},
"transform": [
  {"lookup": "method", "from": {"data": {"values": [
    {"method": "RJM", "family": "RJM"},
    {"method": "bal.-RJM", "family": "RJM"},
    {"method": "proj.-RJM", "family": "RJM"},
    {"method": "bal. proj.-RJM", "family": "RJM"},
    {"method": "KMeans(X)", "family": "KMeans"},
    {"method": "KMeans(X, Y)", "family": "KMeans"},
    {"method": "GaussianMixture(X)", "family": "GaussianMixture"},
    {"method": "GaussianMixture(X, Y)", "family": "GaussianMixture"},
    {"method": "MoE", "family": "MoE"},
    {"method": "Oracle", "family": "Oracle"}
  ]}, "key": "method", "fields": ["family"]}}
],
"facet": {
  "row": {"field": "metric", "type": "nominal", "sort": ["β PR-AUC", "Ω PR-AUC"], "header": {"title": null, "labelAngle": -90, "labelOrient": "left", "labelFont": "Liberation Sans", "labelFontSize": 14.5, "labelColor": "#262626", "labelPadding": -6}},
  "column": {"field": "signal", "type": "nominal", "sort": ["Signal in μ only", "Signal in β only", "Signal in μ and β"], "header": {"title": null, "labelFont": "Liberation Serif", "labelFontSize": 25.5, "labelColor": "#111111", "labelPadding": 5}}
},
"spacing": {"row": 13.5, "column": 15},
"resolve": {"axis": {"x": "independent", "y": "independent"}},
"spec": {
  "width": 211,
  "height": 230,
  "layer": [
    {"transform": [{"filter": {"and": [{"field": "method", "equal": "Oracle"}, {"field": "n", "equal": 100}]}}],
     "mark": {"type": "rule", "color": "#a8a8a8", "strokeDash": [3, 2], "strokeWidth": 0.9},
     "encoding": {"y": {"datum": 0}}},
    {"transform": [{"filter": {"and": [{"field": "method", "equal": "Oracle"}, {"field": "n", "equal": 100}]}}],
     "mark": {"type": "rule", "color": "#a8a8a8", "strokeDash": [3, 2], "strokeWidth": 0.9},
     "encoding": {"y": {"datum": 0.5}}},
    {"transform": [{"filter": {"and": [{"field": "method", "equal": "Oracle"}, {"field": "n", "equal": 100}]}}],
     "mark": {"type": "rule", "color": "#a8a8a8", "strokeDash": [3, 2], "strokeWidth": 0.9},
     "encoding": {"y": {"datum": 1}}},
    {"mark": {"type": "area", "opacity": 0.2},
     "encoding": {
       "x": {"field": "n", "type": "quantitative", "scale": {"domain": [5, 2095], "nice": false, "zero": false}, "axis": {"values": [500, 1000, 1500, 2000], "format": "d", "title": "n"}},
       "y": {"field": "lo", "type": "quantitative", "scale": {"domain": [-0.05, 1.05], "nice": false, "zero": false}, "axis": {"values": [0, 0.2, 0.4, 0.6, 0.8, 1], "format": ".1f", "title": null}},
       "y2": {"field": "hi"},
       "color": {"field": "method", "type": "nominal", "scale": {"domain": ["RJM", "bal.-RJM", "proj.-RJM", "bal. proj.-RJM", "KMeans(X)", "KMeans(X, Y)", "GaussianMixture(X)", "GaussianMixture(X, Y)", "MoE", "Oracle"], "range": ["#1f77b4", "#aec7e8", "#ff7f0e", "#ffbb78", "#2ca02c", "#98df8a", "#d62728", "#ff9896", "#9467bd", "#8c564b"]},
         "legend": {"title": "clustering method", "orient": "none", "legendX": 752, "legendY": 84, "symbolType": "M-2,0H2", "symbolSize": 196, "labelOffset": 18, "rowPadding": 4.9, "titleFontSize": 14.5, "titleFontWeight": "normal", "titleColor": "#262626", "labelFontSize": 13.8, "labelColor": "#262626", "titlePadding": 5,
           "encode": {"title": {"update": {"dx": {"value": 6}}}, "symbols": {"update": {"stroke": {"scale": "color", "field": "value"}, "fill": {"value": "transparent"}, "strokeWidth": {"value": 1.8}, "opacity": {"value": 1}, "shape": {"value": "M-2,0H2"}, "size": {"value": 196}}}}}}
     }},
    {"mark": {"type": "line", "strokeWidth": 1.4},
     "encoding": {
       "x": {"field": "n", "type": "quantitative"},
       "y": {"field": "mean", "type": "quantitative"},
       "color": {"field": "method", "type": "nominal",
         "legend": {"title": "clustering method", "orient": "none", "legendX": 752, "legendY": 84, "symbolType": "M-2,0H2", "symbolSize": 196, "labelOffset": 18, "rowPadding": 4.9, "titleFontSize": 14.5, "titleFontWeight": "normal", "titleColor": "#262626", "labelFontSize": 13.8, "labelColor": "#262626", "titlePadding": 5,
           "encode": {"title": {"update": {"dx": {"value": 6}}}, "symbols": {"update": {"stroke": {"scale": "color", "field": "value"}, "fill": {"value": "transparent"}, "strokeWidth": {"value": 1.8}, "opacity": {"value": 1}, "shape": {"value": "M-2,0H2"}, "size": {"value": 196}}}}}},
       "strokeDash": {"field": "family", "type": "nominal", "scale": {"domain": ["RJM", "KMeans", "GaussianMixture", "MoE", "Oracle"], "range": [[1, 0], [5.5, 2], [1.4, 1.4], [4, 1.8, 2, 1.8], [6.5, 1.5, 1.5, 1.5]]},
         "legend": {"title": "method family", "orient": "none", "legendX": 752, "legendY": 302, "symbolType": "M-2,0H2", "symbolSize": 196, "labelOffset": 18, "rowPadding": 4.9, "titleFontSize": 14.5, "titleFontWeight": "normal", "titleColor": "#262626", "labelFontSize": 13.8, "labelColor": "#262626", "titlePadding": 5,
           "encode": {"title": {"update": {"dx": {"value": 6}}}, "symbols": {"update": {
             "stroke": {"value": "#262626"}, "fill": {"value": "#262626"}, "strokeWidth": {"value": 1.3}, "opacity": {"value": 1}, "size": {"value": 196},
             "strokeDash": {"scale": "strokeDash", "field": "value"},
             "shape": {"signal": "datum.value === 'RJM' ? 'M-2,0H2M0.4,0A0.4,0.4,0,1,1,-0.4,0A0.4,0.4,0,1,1,0.4,0Z' : datum.value === 'KMeans' ? 'M-2,0H2M0,-0.16L0.24,-0.4L0.4,-0.24L0.16,0L0.4,0.24L0.24,0.4L0,0.16L-0.24,0.4L-0.4,0.24L-0.16,0L-0.4,-0.24L-0.24,-0.4Z' : datum.value === 'GaussianMixture' ? 'M-2,0H2M-0.3,-0.3H0.3V0.3H-0.3Z' : datum.value === 'MoE' ? 'M-2,0H2M-0.4,-0.13H-0.13V-0.4H0.13V-0.13H0.4V0.13H0.13V0.4H-0.13V0.13H-0.4Z' : 'M-2,0H2M0,-0.36L0.28,0L0,0.36L-0.28,0Z'"}
           }}}}}
     }},
    {"mark": {"type": "point", "filled": true, "opacity": 1, "stroke": "white", "strokeWidth": 0.8},
     "encoding": {
       "x": {"field": "n", "type": "quantitative"},
       "y": {"field": "mean", "type": "quantitative"},
       "color": {"field": "method", "type": "nominal",
         "legend": {"title": "clustering method", "orient": "none", "legendX": 752, "legendY": 84, "symbolType": "M-2,0H2", "symbolSize": 196, "labelOffset": 18, "rowPadding": 4.9, "titleFontSize": 14.5, "titleFontWeight": "normal", "titleColor": "#262626", "labelFontSize": 13.8, "labelColor": "#262626", "titlePadding": 5,
           "encode": {"title": {"update": {"dx": {"value": 6}}}, "symbols": {"update": {"stroke": {"scale": "color", "field": "value"}, "fill": {"value": "transparent"}, "strokeWidth": {"value": 1.8}, "opacity": {"value": 1}, "shape": {"value": "M-2,0H2"}, "size": {"value": 196}}}}}},
       "shape": {"field": "family", "type": "nominal", "scale": {"range": ["square", "M0,-0.4L0.6,-1L1,-0.6L0.4,0L1,0.6L0.6,1L0,0.4L-0.6,1L-1,0.6L-0.4,0L-1,-0.6L-0.6,-1Z", "cross", "diamond", "circle"]}, "legend": null},
       "size": {"field": "family", "type": "nominal", "scale": {"type": "ordinal", "range": [45, 78, 85, 48, 95]}, "legend": null}
     }}
  ]
}
}
